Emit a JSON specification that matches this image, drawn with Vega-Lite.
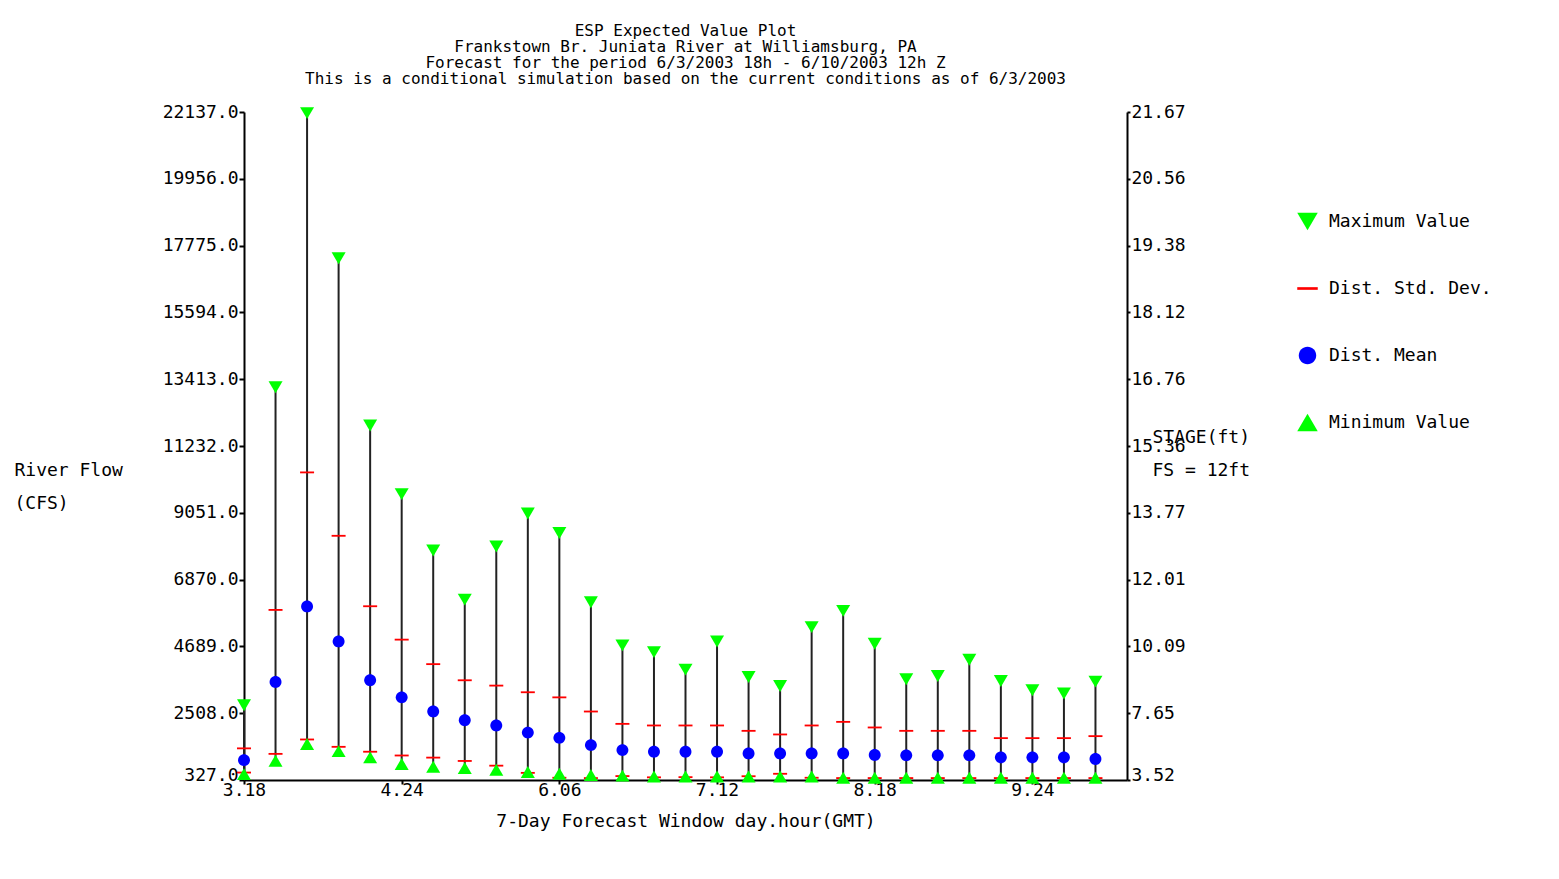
{
  "$schema": "https://vega.github.io/schema/vega-lite/v6.json",
  "width": 883,
  "height": 668,
  "autosize": "none",
  "padding": {"left": 244, "top": 112, "right": 432, "bottom": 99},
  "background": "white",
  "config": {
    "font": "DejaVu Sans Mono",
    "view": {"stroke": null},
    "axis": {
      "labelFont": "DejaVu Sans Mono",
      "labelFontSize": 18,
      "labelColor": "black",
      "titleFont": "DejaVu Sans Mono",
      "titleFontSize": 18,
      "titleFontWeight": "normal",
      "titleColor": "black",
      "domainColor": "black",
      "domainWidth": 2,
      "tickColor": "black",
      "tickWidth": 2,
      "grid": false
    },
    "legend": {
      "labelFont": "DejaVu Sans Mono",
      "labelFontSize": 18,
      "labelColor": "black",
      "labelLimit": 400
    }
  },
  "title": {
    "text": [
      "ESP Expected Value Plot",
      "Frankstown Br. Juniata River at Williamsburg, PA",
      "Forecast for the period 6/3/2003 18h - 6/10/2003 12h Z",
      "This is a conditional simulation based on the current conditions as of 6/3/2003"
    ],
    "font": "DejaVu Sans Mono",
    "fontSize": 16,
    "fontWeight": "normal",
    "color": "black",
    "lineHeight": 16,
    "anchor": "middle",
    "offset": 16
  },
  "data": {
    "values": [
      {"t": 0, "max": 2768, "sdHi": 1360, "mean": 975, "sdLo": 570, "min": 520},
      {"t": 1, "max": 13150, "sdHi": 5880, "mean": 3527, "sdLo": 1180, "min": 955},
      {"t": 2, "max": 22100, "sdHi": 10370, "mean": 5995, "sdLo": 1650, "min": 1500},
      {"t": 3, "max": 17360, "sdHi": 8300, "mean": 4853, "sdLo": 1410, "min": 1270},
      {"t": 4, "max": 11900, "sdHi": 6000, "mean": 3583, "sdLo": 1250, "min": 1066},
      {"t": 5, "max": 9660, "sdHi": 4910, "mean": 3025, "sdLo": 1127, "min": 850},
      {"t": 6, "max": 7820, "sdHi": 4110, "mean": 2567, "sdLo": 1058, "min": 760},
      {"t": 7, "max": 6216, "sdHi": 3583, "mean": 2280, "sdLo": 949, "min": 718},
      {"t": 8, "max": 7953, "sdHi": 3409, "mean": 2107, "sdLo": 795, "min": 660},
      {"t": 9, "max": 9030, "sdHi": 3192, "mean": 1875, "sdLo": 560, "min": 587},
      {"t": 10, "max": 8390, "sdHi": 3025, "mean": 1703, "sdLo": 400, "min": 530},
      {"t": 11, "max": 6131, "sdHi": 2563, "mean": 1466, "sdLo": 390, "min": 490},
      {"t": 12, "max": 4721, "sdHi": 2160, "mean": 1304, "sdLo": 455, "min": 470},
      {"t": 13, "max": 4503, "sdHi": 2107, "mean": 1248, "sdLo": 414, "min": 440},
      {"t": 14, "max": 3930, "sdHi": 2107, "mean": 1248, "sdLo": 420, "min": 440},
      {"t": 15, "max": 4851, "sdHi": 2107, "mean": 1248, "sdLo": 414, "min": 440},
      {"t": 16, "max": 3690, "sdHi": 1932, "mean": 1196, "sdLo": 450, "min": 440},
      {"t": 17, "max": 3397, "sdHi": 1814, "mean": 1196, "sdLo": 530, "min": 440},
      {"t": 18, "max": 5317, "sdHi": 2107, "mean": 1196, "sdLo": 400, "min": 440},
      {"t": 19, "max": 5850, "sdHi": 2225, "mean": 1196, "sdLo": 390, "min": 400},
      {"t": 20, "max": 4776, "sdHi": 2042, "mean": 1141, "sdLo": 390, "min": 400},
      {"t": 21, "max": 3615, "sdHi": 1932, "mean": 1131, "sdLo": 390, "min": 400},
      {"t": 22, "max": 3722, "sdHi": 1932, "mean": 1131, "sdLo": 390, "min": 400},
      {"t": 23, "max": 4255, "sdHi": 1932, "mean": 1131, "sdLo": 390, "min": 400},
      {"t": 24, "max": 3560, "sdHi": 1694, "mean": 1066, "sdLo": 390, "min": 400},
      {"t": 25, "max": 3257, "sdHi": 1694, "mean": 1066, "sdLo": 390, "min": 400},
      {"t": 26, "max": 3149, "sdHi": 1694, "mean": 1066, "sdLo": 390, "min": 400},
      {"t": 27, "max": 3538, "sdHi": 1759, "mean": 1011, "sdLo": 390, "min": 400}
    ]
  },
  "encoding": {
    "x": {
      "field": "t",
      "type": "quantitative",
      "scale": {"domain": [0, 28], "nice": false, "zero": false},
      "axis": {
        "values": [0, 5, 10, 15, 20, 25],
        "labelExpr": "['3.18','4.24','6.06','7.12','8.18','9.24'][round(datum.value/5)]",
        "labelFlush": false,
        "tickSize": 4,
        "labelPadding": -3,
        "title": "7-Day Forecast Window day.hour(GMT)",
        "titlePadding": 13
      }
    }
  },
  "layer": [
    {
      "mark": {"type": "rule", "color": "#222222", "strokeWidth": 2},
      "encoding": {
        "y": {
          "field": "min",
          "type": "quantitative",
          "scale": {"domain": [327, 22137], "nice": false, "zero": false},
          "axis": {
            "orient": "left",
            "values": [327, 2508, 4689, 6870, 9051, 11232, 13413, 15594, 17775, 19956, 22137],
            "format": ".1f",
            "tickSize": 5,
            "labelPadding": 1,
            "labelBaseline": {"condition": {"test": "datum.value == 327", "value": "alphabetic"}, "value": "middle"},
            "title": ["River Flow", "(CFS)"],
            "titleAngle": 0,
            "titleAlign": "left",
            "titleBaseline": "middle",
            "titleX": -230,
            "titleY": 358,
            "titleLineHeight": 33
          }
        },
        "y2": {"field": "max"}
      }
    },
    {
      "transform": [{"fold": ["max", "sdHi", "mean", "sdLo", "min"], "as": ["key", "value"]}],
      "mark": {"type": "point", "filled": true, "opacity": 1, "size": 196, "strokeWidth": 0},
      "encoding": {
        "y": {
          "field": "value",
          "type": "quantitative",
          "scale": {"domain": [327, 22137], "nice": false, "zero": false},
          "axis": null
        },
        "color": {
          "field": "key",
          "type": "nominal",
          "scale": {
            "domain": ["max", "sdHi", "mean", "sdLo", "min"],
            "range": ["#00ff00", "#ff0000", "#0000ff", "#ff0000", "#00ff00"]
          },
          "legend": {
            "title": null,
            "orient": "none",
            "legendX": 1053,
            "legendY": 99,
            "direction": "vertical",
            "values": ["max", "sdHi", "mean", "min"],
            "labelExpr": "datum.value == 'max' ? 'Maximum Value' : datum.value == 'sdHi' ? 'Dist. Std. Dev.' : datum.value == 'mean' ? 'Dist. Mean' : 'Minimum Value'",
            "symbolSize": 420,
            "symbolStrokeWidth": 0,
            "labelOffset": 11,
            "labelLimit": 400,
            "rowPadding": 47
          }
        },
        "shape": {
          "field": "key",
          "type": "nominal",
          "scale": {
            "domain": ["max", "sdHi", "mean", "sdLo", "min"],
            "range": [
              "M-1,-0.85L1,-0.85L0,0.85Z",
              "M-1,-0.13H1V0.13H-1Z",
              "M0.85,0A0.85,0.85 0 1,1 -0.85,0A0.85,0.85 0 1,1 0.85,0Z",
              "M-1,-0.13H1V0.13H-1Z",
              "M-1,0.85L1,0.85L0,-0.85Z"
            ]
          },
          "legend": {
            "title": null,
            "orient": "none",
            "legendX": 1053,
            "legendY": 99,
            "direction": "vertical",
            "values": ["max", "sdHi", "mean", "min"],
            "labelExpr": "datum.value == 'max' ? 'Maximum Value' : datum.value == 'sdHi' ? 'Dist. Std. Dev.' : datum.value == 'mean' ? 'Dist. Mean' : 'Minimum Value'",
            "symbolSize": 420,
            "symbolStrokeWidth": 0,
            "labelOffset": 11,
            "labelLimit": 400,
            "rowPadding": 47
          }
        }
      }
    },
    {
      "mark": {"type": "point", "opacity": 0},
      "encoding": {
        "y": {
          "field": "max",
          "type": "quantitative",
          "scale": {"domain": [327, 22137], "nice": false, "zero": false},
          "axis": {
            "orient": "right",
            "values": [327, 2508, 4689, 6870, 9051, 11232, 13413, 15594, 17775, 19956, 22137],
            "labelExpr": "['3.52','7.65','10.09','12.01','13.77','15.36','16.76','18.12','19.38','20.56','21.67'][indexof([327, 2508, 4689, 6870, 9051, 11232, 13413, 15594, 17775, 19956, 22137], datum.value)]",
            "tickSize": 3,
            "labelPadding": 1,
            "labelBaseline": {"condition": {"test": "datum.value == 327", "value": "alphabetic"}, "value": "middle"},
            "title": ["STAGE(ft)", "FS = 12ft"],
            "titleAngle": 0,
            "titleAlign": "left",
            "titleBaseline": "middle",
            "titleX": 25,
            "titleY": 325,
            "titleLineHeight": 33
          }
        }
      }
    }
  ],
  "resolve": {"scale": {"y": "independent"}}
}
